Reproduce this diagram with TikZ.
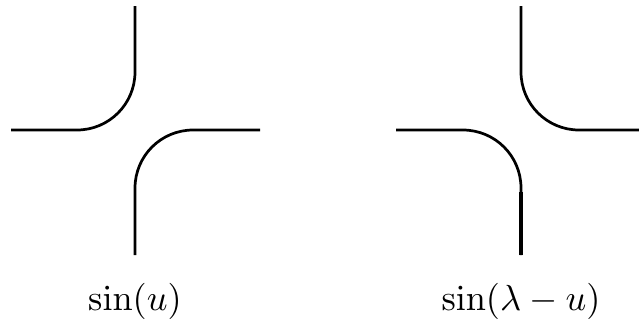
\documentclass[tikz,border=0pt]{standalone}
\begin{document}
\begin{tikzpicture}[x=0.2757pt,y=-0.2757pt,
  strand/.style={line width=0.75pt,rounded corners=16pt},
  lbl/.style={anchor=base,inner sep=0pt}]
\useasboundingbox (0,0) rectangle (639,323);
% left: sin(u)
\coordinate (lc) at (135,130);
\draw[strand] (135,6) -- (lc) -- (11,130);
\draw[strand] (260,130) -- (lc) -- (135,255);
\node[lbl] (l1) at (135,310) {$\sin(u)$};
% right: sin(lambda - u)
\coordinate (rc) at (521,130);
\draw[strand] (521,6) -- (rc) -- (639,130);
\draw[strand] (396,130) -- (rc) -- (521,255);
\draw[line width=1pt] (521,192) -- (521,255);
\node[lbl] (l2) at (521,310) {$\sin(\lambda-u)$};
\end{tikzpicture}
\end{document}
